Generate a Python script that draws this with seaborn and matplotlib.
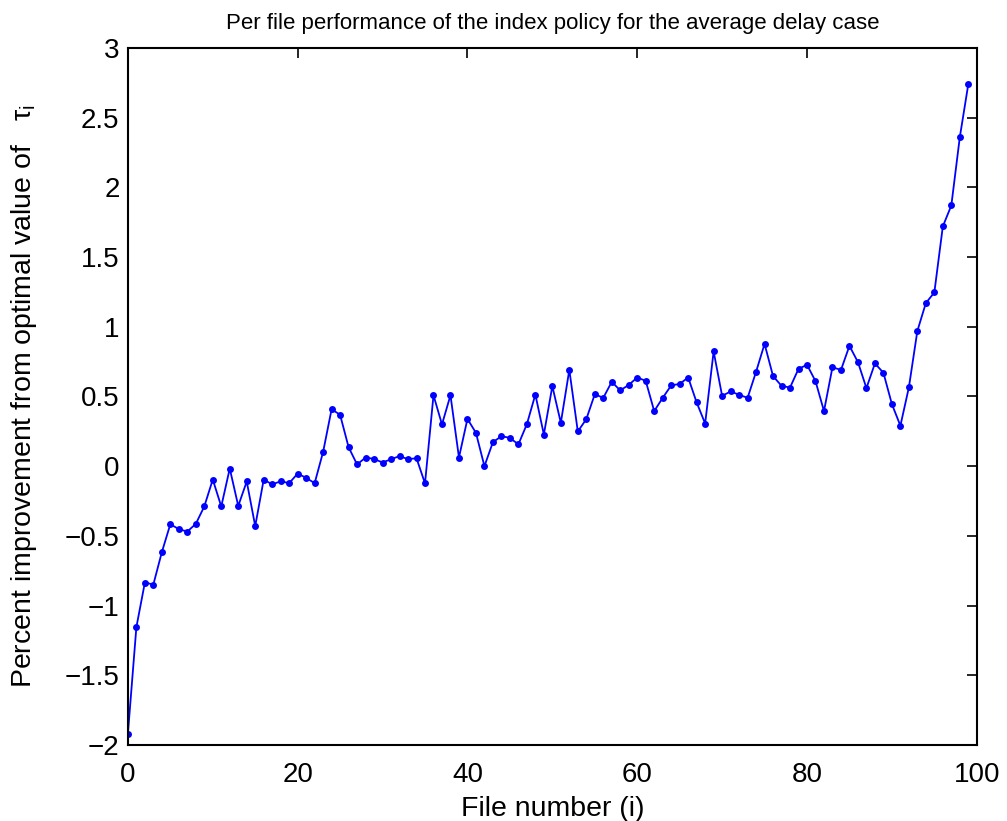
import numpy as np
import pandas as pd
import matplotlib
matplotlib.use("Agg")
import matplotlib.pyplot as plt
import seaborn as sns

file_number = list(range(100))
improvement = [
    -1.92, -1.155, -0.835, -0.849, -0.617, -0.416, -0.452, -0.469, -0.414, -0.289,
    -0.096, -0.289, -0.017, -0.285, -0.110, -0.430, -0.096, -0.131, -0.108, -0.122,
    -0.053, -0.084, -0.122, 0.103, 0.409, 0.368, 0.136, 0.012, 0.062, 0.052,
    0.026, 0.050, 0.072, 0.050, 0.057, -0.124, 0.509, 0.299, 0.509, 0.062,
    0.339, 0.239, 0.000, 0.172, 0.215, 0.203, 0.156, 0.301, 0.514, 0.227,
    0.574, 0.311, 0.691, 0.249, 0.337, 0.516, 0.490, 0.605, 0.543, 0.583,
    0.636, 0.612, 0.395, 0.490, 0.579, 0.590, 0.636, 0.457, 0.306, 0.823,
    0.504, 0.536, 0.512, 0.490, 0.677, 0.877, 0.646, 0.576, 0.564, 0.698,
    0.727, 0.610, 0.395, 0.710, 0.690, 0.863, 0.746, 0.560, 0.737, 0.670,
    0.445, 0.290, 0.565, 0.970, 1.170, 1.246, 1.720, 1.870, 2.360, 2.740,
]

x_ticks = [0, 20, 40, 60, 80, 100]
y_ticks = [-2, -1.5, -1, -0.5, 0, 0.5, 1, 1.5, 2, 2.5, 3]
y_tick_labels = ["\u22122", "\u22121.5", "\u22121", "\u22120.5", "0", "0.5", "1", "1.5", "2", "2.5", "3"]

df = pd.DataFrame({"file": file_number, "imp": improvement})

sns.set_style("white")
plt.rcParams["font.family"] = ["Liberation Sans", "DejaVu Sans"]
plt.rcParams["mathtext.fontset"] = "custom"
plt.rcParams["mathtext.it"] = "Liberation Sans"
plt.rcParams["mathtext.rm"] = "Liberation Sans"
plt.rcParams["text.color"] = "black"
plt.rcParams["axes.labelcolor"] = "black"

fig = plt.figure(figsize=(10.07, 8.21), dpi=100)
ax = fig.add_axes([0.127, 0.0926, 0.843, 0.849])

sns.lineplot(data=df, x="file", y="imp", ax=ax, color="#0000ff", linewidth=1.3,
             marker="o", markersize=5, markeredgewidth=0, markeredgecolor="#0000ff")

ax.set_xlim(0, 100)
ax.set_ylim(-2, 3)
ax.set_xticks(x_ticks)
ax.set_xticklabels([str(t) for t in x_ticks])
ax.set_yticks(y_ticks)
ax.set_yticklabels(y_tick_labels)
ax.tick_params(direction="in", length=7, width=1.2, labelsize=20, top=True, right=True,
               colors="black")
ax.tick_params(axis="x", pad=12)
ax.tick_params(axis="y", pad=6)
for s in ax.spines.values():
    s.set_visible(True)
    s.set_color("black")
    s.set_linewidth(1.5)

ax.set_xlabel("File number (i)", fontsize=20.5, labelpad=6)
ax.set_ylabel("Percent improvement from optimal value of   $\\mathrm{\\tau_i}$", fontsize=20.5)
ax.yaxis.set_label_coords(-0.105, 0.5)
ax.set_title("Per file performance of the index policy for the average delay case", fontsize=16, pad=14)

fig.savefig("out.png", dpi=100)
